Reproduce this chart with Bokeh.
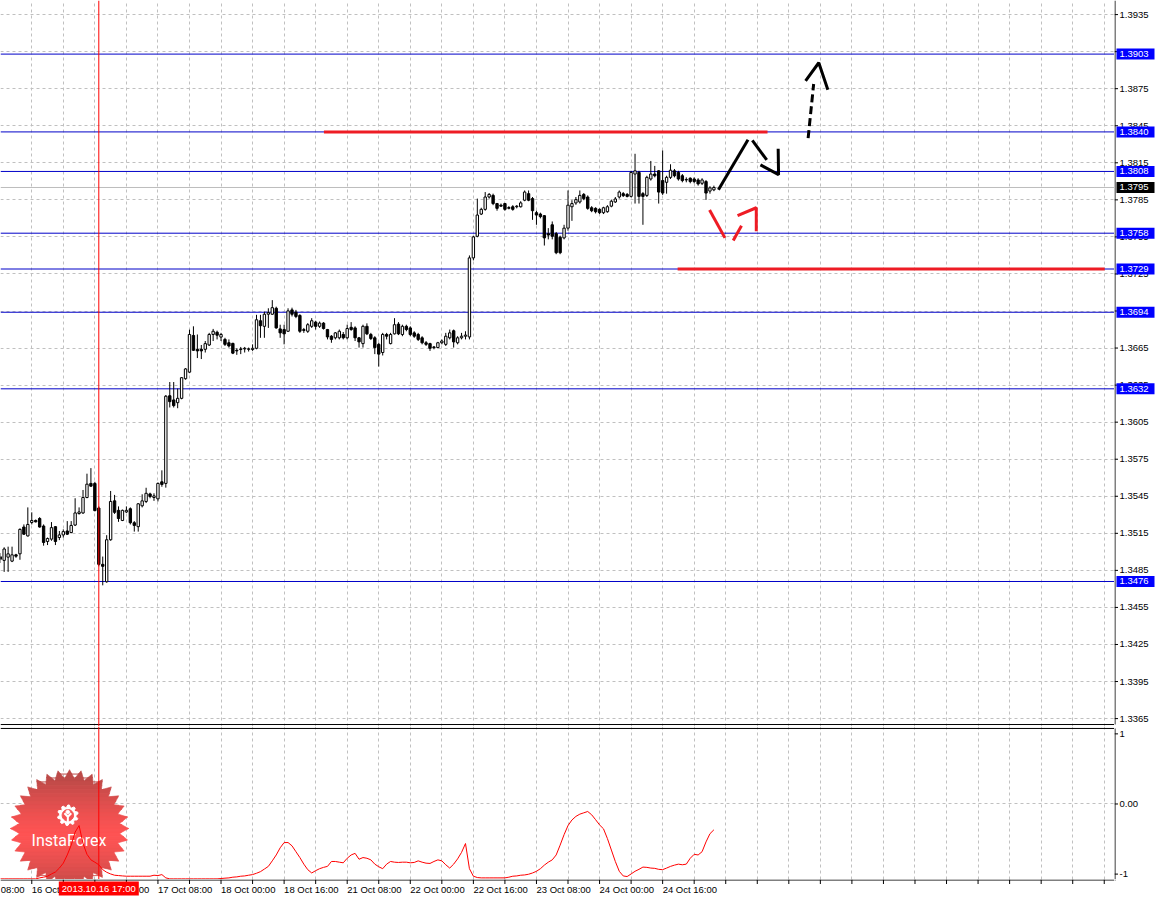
import numpy as np
from bokeh.plotting import figure
from bokeh.layouts import column, row
from bokeh.models import Range1d, FixedTicker, Span, ColumnDataSource
from bokeh.embed import file_html
from bokeh.resources import INLINE
from bokeh.core.properties import value

# ---------------- DATA (hourly EURUSD bars, index 0 = 16 Oct 00:00) ----------------
bar_index = list(range(-8, 174))

opens = [
    1.34960, 1.34931, 1.34957, 1.34925, 1.34976, 1.34984, 1.35201, 1.35129, 1.35238, 1.35254,
    1.35270, 1.35209, 1.35084, 1.35103, 1.35204, 1.35116, 1.35137, 1.35169, 1.35156, 1.35217,
    1.35310, 1.35315, 1.35440, 1.35554, 1.35554, 1.35355, 1.34899, 1.34758, 1.35098, 1.35413,
    1.35336, 1.35254, 1.35323, 1.35349, 1.35236, 1.35204, 1.35373, 1.35408, 1.35469, 1.35440,
    1.35429, 1.35567, 1.35554, 1.36264, 1.36230, 1.36208, 1.36243, 1.36402, 1.36455, 1.36752,
    1.36640, 1.36640, 1.36640, 1.36675, 1.36760, 1.36778, 1.36739, 1.36720, 1.36693, 1.36688,
    1.36632, 1.36638, 1.36643, 1.36640, 1.36638, 1.36648, 1.36871, 1.36826, 1.36924, 1.36924,
    1.36972, 1.36805, 1.36800, 1.36786, 1.36959, 1.36940, 1.36914, 1.36792, 1.36786, 1.36826,
    1.36860, 1.36826, 1.36852, 1.36800, 1.36746, 1.36733, 1.36733, 1.36760, 1.36733, 1.36818,
    1.36813, 1.36733, 1.36686, 1.36826, 1.36760, 1.36733, 1.36680, 1.36614, 1.36760, 1.36686,
    1.36765, 1.36844, 1.36760, 1.36826, 1.36813, 1.36773, 1.36760, 1.36733, 1.36693, 1.36686,
    1.36659, 1.36654, 1.36693, 1.36680, 1.36733, 1.36790, 1.36693, 1.36733, 1.36746, 1.36740,
    1.37380, 1.37555, 1.37735, 1.37773, 1.37873, 1.37886, 1.37820, 1.37807, 1.37820, 1.37781,
    1.37794, 1.37794, 1.37794, 1.37847, 1.37900, 1.37860, 1.37746, 1.37735, 1.37722, 1.37576,
    1.37648, 1.37576, 1.37547, 1.37542, 1.37621, 1.37794, 1.37825, 1.37833, 1.37894, 1.37873,
    1.37786, 1.37781, 1.37773, 1.37746, 1.37754, 1.37799, 1.37833, 1.37873, 1.37900, 1.37894,
    1.37878, 1.38059, 1.38072, 1.37900, 1.37886, 1.38019, 1.38059, 1.38085, 1.38006, 1.37992,
    1.38032, 1.38085, 1.38072, 1.38045, 1.38011, 1.38025, 1.38019, 1.38011, 1.37984, 1.37998,
    1.37921, 1.37931]

highs = [
    1.34990, 1.35037, 1.35042, 1.35042, 1.34984, 1.35190, 1.35222, 1.35360, 1.35320, 1.35262,
    1.35281, 1.35222, 1.35116, 1.35241, 1.35209, 1.35169, 1.35182, 1.35249, 1.35249, 1.35434,
    1.35360, 1.35501, 1.35633, 1.35678, 1.35567, 1.35368, 1.34962, 1.35135, 1.35493, 1.35461,
    1.35368, 1.35342, 1.35368, 1.35360, 1.35249, 1.35395, 1.35466, 1.35519, 1.35479, 1.35474,
    1.35562, 1.35660, 1.36270, 1.36375, 1.36375, 1.36322, 1.36415, 1.36487, 1.36799, 1.36826,
    1.36760, 1.36675, 1.36707, 1.36773, 1.36805, 1.36791, 1.36773, 1.36733, 1.36720, 1.36693,
    1.36648, 1.36659, 1.36659, 1.36654, 1.36680, 1.36919, 1.36919, 1.36945, 1.36972, 1.37038,
    1.36985, 1.36839, 1.36839, 1.36972, 1.36977, 1.36959, 1.36924, 1.36813, 1.36852, 1.36892,
    1.36871, 1.36865, 1.36860, 1.36805, 1.36755, 1.36780, 1.36800, 1.36780, 1.36839, 1.36860,
    1.36826, 1.36740, 1.36839, 1.36850, 1.36773, 1.36746, 1.36693, 1.36773, 1.36773, 1.36773,
    1.36892, 1.36860, 1.36839, 1.36839, 1.36826, 1.36786, 1.36773, 1.36746, 1.36707, 1.36693,
    1.36667, 1.36700, 1.36720, 1.36773, 1.36800, 1.36800, 1.36746, 1.36773, 1.36786, 1.37400,
    1.37560, 1.37860, 1.37786, 1.37913, 1.37905, 1.37900, 1.37825, 1.37820, 1.37825, 1.37799,
    1.37807, 1.37807, 1.37839, 1.37926, 1.37926, 1.37873, 1.37762, 1.37746, 1.37727, 1.37621,
    1.37675, 1.37590, 1.37560, 1.37648, 1.37926, 1.37847, 1.37873, 1.37926, 1.37905, 1.37886,
    1.37799, 1.37790, 1.37781, 1.37794, 1.37807, 1.37852, 1.37873, 1.37926, 1.37913, 1.37905,
    1.38085, 1.38223, 1.38085, 1.37913, 1.38045, 1.38165, 1.38125, 1.38090, 1.38250, 1.38045,
    1.38138, 1.38100, 1.38085, 1.38059, 1.38032, 1.38032, 1.38032, 1.38025, 1.38025, 1.38010,
    1.37960, 1.37965]

lows = [
    1.34910, 1.34838, 1.34838, 1.34917, 1.34952, 1.34936, 1.35137, 1.35124, 1.35222, 1.35238,
    1.35196, 1.35050, 1.35055, 1.35090, 1.35055, 1.35095, 1.35116, 1.35137, 1.35151, 1.35209,
    1.35302, 1.35307, 1.35434, 1.35527, 1.35328, 1.34883, 1.34729, 1.34750, 1.35090, 1.35307,
    1.35243, 1.35249, 1.35315, 1.35222, 1.35164, 1.35164, 1.35360, 1.35395, 1.35434, 1.35413,
    1.35408, 1.35527, 1.35520, 1.36169, 1.36169, 1.36163, 1.36235, 1.36394, 1.36447, 1.36627,
    1.36569, 1.36561, 1.36614, 1.36667, 1.36707, 1.36720, 1.36707, 1.36667, 1.36654, 1.36601,
    1.36595, 1.36601, 1.36614, 1.36622, 1.36627, 1.36640, 1.36733, 1.36733, 1.36813, 1.36919,
    1.36807, 1.36733, 1.36680, 1.36781, 1.36906, 1.36892, 1.36773, 1.36773, 1.36773, 1.36813,
    1.36800, 1.36813, 1.36800, 1.36720, 1.36693, 1.36720, 1.36720, 1.36720, 1.36720, 1.36790,
    1.36707, 1.36654, 1.36654, 1.36755, 1.36715, 1.36601, 1.36500, 1.36590, 1.36720, 1.36680,
    1.36760, 1.36755, 1.36746, 1.36786, 1.36746, 1.36733, 1.36707, 1.36680, 1.36667, 1.36627,
    1.36640, 1.36648, 1.36680, 1.36667, 1.36720, 1.36654, 1.36680, 1.36720, 1.36720, 1.36720,
    1.37360, 1.37547, 1.37727, 1.37762, 1.37860, 1.37807, 1.37762, 1.37794, 1.37762, 1.37773,
    1.37762, 1.37781, 1.37788, 1.37839, 1.37839, 1.37688, 1.37648, 1.37700, 1.37480, 1.37530,
    1.37530, 1.37410, 1.37410, 1.37530, 1.37600, 1.37680, 1.37810, 1.37820, 1.37847, 1.37770,
    1.37750, 1.37740, 1.37735, 1.37735, 1.37746, 1.37790, 1.37825, 1.37860, 1.37873, 1.37870,
    1.37870, 1.37820, 1.37820, 1.37648, 1.37873, 1.38006, 1.38032, 1.37820, 1.37890, 1.37900,
    1.38019, 1.38032, 1.38006, 1.37992, 1.37992, 1.37984, 1.37984, 1.37965, 1.37970, 1.37850,
    1.37900, 1.37920]

closes = [
    1.34940, 1.35023, 1.34984, 1.34976, 1.34965, 1.35182, 1.35143, 1.35222, 1.35254, 1.35243,
    1.35201, 1.35076, 1.35108, 1.35196, 1.35084, 1.35137, 1.35164, 1.35143, 1.35214, 1.35315,
    1.35323, 1.35440, 1.35548, 1.35532, 1.35334, 1.34899, 1.34883, 1.35098, 1.35408, 1.35320,
    1.35270, 1.35336, 1.35336, 1.35236, 1.35214, 1.35389, 1.35413, 1.35474, 1.35448, 1.35453,
    1.35554, 1.35546, 1.36260, 1.36216, 1.36184, 1.36243, 1.36410, 1.36481, 1.36760, 1.36632,
    1.36627, 1.36627, 1.36686, 1.36760, 1.36786, 1.36754, 1.36760, 1.36680, 1.36667, 1.36609,
    1.36627, 1.36643, 1.36648, 1.36643, 1.36648, 1.36879, 1.36831, 1.36924, 1.36937, 1.36977,
    1.36813, 1.36773, 1.36765, 1.36951, 1.36924, 1.36906, 1.36786, 1.36800, 1.36839, 1.36871,
    1.36826, 1.36852, 1.36808, 1.36740, 1.36720, 1.36773, 1.36786, 1.36733, 1.36808, 1.36800,
    1.36733, 1.36700, 1.36826, 1.36765, 1.36727, 1.36654, 1.36601, 1.36760, 1.36746, 1.36760,
    1.36839, 1.36765, 1.36826, 1.36800, 1.36760, 1.36746, 1.36720, 1.36693, 1.36680, 1.36648,
    1.36654, 1.36693, 1.36707, 1.36746, 1.36773, 1.36700, 1.36733, 1.36746, 1.36755, 1.37380,
    1.37550, 1.37727, 1.37773, 1.37873, 1.37894, 1.37820, 1.37781, 1.37799, 1.37773, 1.37788,
    1.37773, 1.37799, 1.37825, 1.37913, 1.37847, 1.37762, 1.37727, 1.37714, 1.37542, 1.37565,
    1.37555, 1.37422, 1.37422, 1.37621, 1.37807, 1.37820, 1.37852, 1.37886, 1.37860, 1.37781,
    1.37762, 1.37754, 1.37746, 1.37786, 1.37794, 1.37839, 1.37857, 1.37913, 1.37884, 1.37878,
    1.38072, 1.38085, 1.37878, 1.37878, 1.38032, 1.38059, 1.38045, 1.37913, 1.37905, 1.38032,
    1.38090, 1.38045, 1.38019, 1.38006, 1.38015, 1.37998, 1.37998, 1.37979, 1.38011, 1.37905,
    1.37947, 1.37950]

oscillator = [
    -1.068, -1.068, -1.068, -1.068, -1.068, -1.068, -1.068, -1.068, -1.068, -1.068,
    -1.054, -1.044, -1.030, -0.998, -0.970, -0.914, -0.844, -0.727, -0.587, -0.401,
    -0.308, -0.564, -0.718, -0.797, -0.830, -0.867, -0.937, -0.974, -0.998, -1.016,
    -1.021, -1.026, -1.030, -1.030, -1.030, -1.030, -1.030, -1.030, -1.030, -1.016,
    -1.021, -1.007, -1.054, -1.068, -1.068, -1.068, -1.068, -1.068, -1.068, -1.068,
    -1.068, -1.068, -1.068, -1.068, -1.068, -1.068, -1.063, -1.058, -1.054, -1.044,
    -1.040, -1.030, -1.026, -1.016, -1.007, -0.988, -0.965, -0.928, -0.890, -0.811,
    -0.727, -0.625, -0.550, -0.550, -0.597, -0.681, -0.764, -0.858, -0.937, -0.984,
    -0.951, -0.923, -0.904, -0.890, -0.820, -0.820, -0.830, -0.839, -0.774, -0.727,
    -0.704, -0.788, -0.764, -0.774, -0.797, -0.858, -0.895, -0.923, -0.858, -0.820,
    -0.830, -0.834, -0.830, -0.830, -0.839, -0.834, -0.811, -0.830, -0.844, -0.848,
    -0.820, -0.797, -0.811, -0.867, -0.914, -0.858, -0.783, -0.690, -0.564, -0.923,
    -1.030, -1.049, -1.054, -1.054, -1.054, -1.054, -1.054, -1.054, -1.054, -1.044,
    -1.030, -1.026, -1.016, -1.012, -1.002, -0.984, -0.960, -0.923, -0.872, -0.830,
    -0.797, -0.727, -0.587, -0.438, -0.308, -0.228, -0.177, -0.145, -0.126, -0.107,
    -0.154, -0.224, -0.298, -0.354, -0.494, -0.657, -0.820, -0.960, -1.026, -1.035,
    -0.998, -0.960, -0.932, -0.900, -0.904, -0.914, -0.918, -0.932, -0.937, -0.914,
    -0.890, -0.872, -0.858, -0.867, -0.858, -0.774, -0.718, -0.727, -0.681, -0.541,
    -0.424, -0.368]

price_ticks = [1.3365, 1.3395, 1.3425, 1.3455, 1.3485, 1.3515, 1.3545, 1.3575, 1.3605, 1.3635,
               1.3665, 1.3695, 1.3725, 1.3755, 1.3785, 1.3815, 1.3845, 1.3875, 1.3905, 1.3935]
price_tick_labels = ["1.3365", "1.3395", "1.3425", "1.3455", "1.3485", "1.3515", "1.3545",
                     "1.3575", "1.3605", "1.3635", "1.3665", "1.3695", "1.3725", "1.3755",
                     "1.3785", "1.3815", "1.3845", "1.3875", "1.3905", "1.3935"]
osc_ticks = [-1, 0, 1]
osc_tick_labels = ["-1", "0.00", "1"]

grid_bars = [0, 8, 16, 24, 32, 40, 48, 56, 64, 72, 80, 88, 96, 104, 112, 120, 128, 136, 144,
             152, 160, 168, 176, 184, 192, 200, 208, 216, 224, 232, 240, 248, 256, 264, 272]
time_tick_bars = [0, 16, 32, 48, 64, 80, 96, 112, 128, 144, 160]
time_tick_labels = ["16 Oct 00:00", "16 Oct 16:00", "17 Oct 08:00", "18 Oct 00:00",
                    "18 Oct 16:00", "21 Oct 08:00", "22 Oct 00:00", "22 Oct 16:00",
                    "23 Oct 08:00", "24 Oct 00:00", "24 Oct 16:00"]
edge_time_bar = -7.85          # visible tail of the "15 Oct 08:00" label at the left edge
edge_time_label = "08:00"
crosshair_bar = 17
crosshair_label = "2013.10.16 17:00"

level_prices = [1.3903, 1.3840, 1.3808, 1.3758, 1.3729, 1.3694, 1.3632, 1.3476]
level_labels = ["1.3903", "1.3840", "1.3808", "1.3758", "1.3729", "1.3694", "1.3632", "1.3476"]
bid_price = 1.3795
bid_label = "1.3795"

zone_start_bar = [74.1, 163.8]
zone_end_bar = [186.6, 272.1]
zone_price = [1.3840, 1.3729]

# hand-drawn forecast arrows (bar index, price)
black_strokes_x = [[174.15, 181.65], [182.75, 186.4], [184.8, 189.4, 189.3]]
black_strokes_y = [[1.37931, 1.38337], [1.38332, 1.38173], [1.38133, 1.38054, 1.38263]]
black_dash_x = [[196.9, 198.3]]
black_dash_y = [[1.38350, 1.38788]]
black_head_x = [[196.25, 199.6, 201.9]]
black_head_y = [[1.38814, 1.38960, 1.38742]]
red_strokes_x = [[171.9, 175.8], [177.9, 180.0], [179.0, 183.75, 183.75]]
red_strokes_y = [[1.37767, 1.37542], [1.37521, 1.37640], [1.37722, 1.37786, 1.37595]]

# ---------------- LAYOUT ----------------
PLOT_W = 1114
AX_W = 42
MAIN_H = 726
IND_H = 153
BOT_H = 18
FONT = "Liberation Sans"
FSIZE = "9.5px"
GRID = "#C0C0C0"
BLUE = "#0000C8"
BOX_BLUE = "#0000FF"
RED = "#EE1C25"

x_rng = Range1d(-7.93, 274.6)
P_LO, P_HI = 1.33586, 1.39464
P_BORDER = 1.33602
I_LO, I_HI = -1.077, 1.105
I_BORDER = 1.077


def bare(width, height, x_range, y_range):
    f = figure(width=width, height=height, x_range=x_range, y_range=y_range,
               output_backend="svg", toolbar_location=None, x_axis_location=None,
               y_axis_location=None, min_border=0, min_border_left=0, min_border_right=0,
               min_border_top=0, min_border_bottom=0)
    f.outline_line_color = None
    f.background_fill_color = "white"
    f.border_fill_color = "white"
    f.grid.visible = False
    return f


def dashed_grid(f, xticks, yticks):
    f.grid.visible = True
    f.xgrid.ticker = FixedTicker(ticks=xticks)
    f.ygrid.ticker = FixedTicker(ticks=yticks)
    f.grid.grid_line_color = GRID
    f.grid.grid_line_dash = "3 3"


# ---- main price panel ----
p_rng = Range1d(P_LO, P_HI)
p = bare(PLOT_W, MAIN_H, x_rng, p_rng)
dashed_grid(p, grid_bars, price_ticks)
p.add_layout(Span(location=P_BORDER, dimension="width", line_color="black", line_width=1))
for lv in level_prices:
    p.add_layout(Span(location=lv, dimension="width", line_color=BLUE, line_width=1,
                      level="underlay"))
p.add_layout(Span(location=bid_price, dimension="width", line_color="#BDBDBD",
                  line_width=1, level="underlay"))

p.segment(x0=zone_start_bar, y0=zone_price, x1=zone_end_bar, y1=zone_price,
          line_color=RED, line_width=3)

src = ColumnDataSource(dict(
    x=bar_index, high=highs, low=lows,
    top=[max(o, c) for o, c in zip(opens, closes)],
    bottom=[min(o, c) for o, c in zip(opens, closes)],
    fill=["white" if c >= o else "black" for o, c in zip(opens, closes)]))
p.segment(x0="x", y0="low", x1="x", y1="high", source=src, line_color="black", line_width=1)
p.vbar(x="x", width=0.6, top="top", bottom="bottom", source=src,
       fill_color="fill", line_color="black", line_width=1)

p.multi_line(xs=black_strokes_x, ys=black_strokes_y, line_color="black", line_width=3)
p.multi_line(xs=black_dash_x, ys=black_dash_y, line_color="black", line_width=3,
             line_dash="8 4")
p.multi_line(xs=black_head_x, ys=black_head_y, line_color="black", line_width=3)
p.multi_line(xs=red_strokes_x, ys=red_strokes_y, line_color=RED, line_width=3)
p.add_layout(Span(location=crosshair_bar, dimension="height", line_color="#FF0000",
                  line_width=1))

# ---- main price scale (right) ----
pr = bare(AX_W, MAIN_H, Range1d(0, AX_W), p_rng)
pr.segment(x0=[0.5], y0=[P_BORDER], x1=[0.5], y1=[P_HI], line_color="black", line_width=1)
pr.segment(x0=[0] * len(price_ticks), y0=price_ticks, x1=[3.5] * len(price_ticks),
           y1=price_ticks, line_color="black", line_width=1)
pr.text(x=[5] * len(price_ticks), y=price_ticks, text=price_tick_labels, text_color="black",
        text_font=value(FONT), text_font_size=FSIZE, text_baseline="middle", text_align="left")
pr.rect(x=[21] * len(level_prices), y=level_prices, width=38, height=11, height_units="screen",
        fill_color=BOX_BLUE, line_color=None)
pr.text(x=[5] * len(level_prices), y=level_prices, text=level_labels, text_color="white",
        text_font=value(FONT), text_font_size=FSIZE, text_baseline="middle", text_align="left")
pr.rect(x=[21], y=[bid_price], width=38, height=11, height_units="screen",
        fill_color="black", line_color=None)
pr.text(x=[5], y=[bid_price], text=[bid_label], text_color="white",
        text_font=value(FONT), text_font_size=FSIZE, text_baseline="middle", text_align="left")

# ---- indicator panel ----
i_rng = Range1d(I_LO, I_HI)
p2 = bare(PLOT_W, IND_H, x_rng, i_rng)
dashed_grid(p2, grid_bars, [0])
p2.add_layout(Span(location=I_BORDER, dimension="width", line_color="black", line_width=1))

BAR0_PX, PX_PER_BAR, ZERO_PX, PX_PER_UNIT = 31.7, 4.0, 818.0, 71.5


def to_data(pts):
    return ([(x - BAR0_PX) / PX_PER_BAR for x, _ in pts],
            [(ZERO_PX - y) / PX_PER_UNIT for _, y in pts])


def ring(cx, cy, radii, n):
    ang = np.linspace(0, 2 * np.pi, n, endpoint=False) - np.pi / 2
    r = np.array([radii[i % len(radii)] for i in range(n)])
    return list(zip(cx + r * np.cos(ang), cy + r * np.sin(ang)))


def clip_half(pts, keep, yc):
    out = []
    for i in range(len(pts)):
        cx_, cy_ = pts[i]
        px_, py_ = pts[i - 1]
        if keep(cy_):
            if not keep(py_):
                t = (yc - py_) / (cy_ - py_)
                out.append((px_ + t * (cx_ - px_), yc))
            out.append((cx_, cy_))
        elif keep(py_):
            t = (yc - py_) / (cy_ - py_)
            out.append((px_ + t * (cx_ - px_), yc))
    return out


star = ring(70.0, 843.0, [60, 51], 64)
bright = np.array([255, 84, 84])
dark = np.array([188, 74, 72])
bxs, bys, bcols = [], [], []
for y0 in range(783, 904, 4):
    pts = clip_half(star, lambda y: y >= y0, y0)
    if pts:
        pts = clip_half(pts, lambda y: y <= y0 + 4.5, y0 + 4.5)
    if len(pts) < 3:
        continue
    t = min(1.0, abs(y0 + 2 - 850) / 58.0) ** 1.3
    c = (bright * (1 - t) + dark * t).astype(int)
    xs_, ys_ = to_data(pts)
    bxs.append(xs_)
    bys.append(ys_)
    bcols.append("#%02x%02x%02x" % tuple(c))
p2.patches(xs=bxs, ys=bys, fill_color=bcols, line_color=bcols, line_width=0.6)

gx, gy = to_data(ring(68.3, 829.5, [10.5, 10.5, 8.3, 8.3], 40))
p2.patch(gx, gy, fill_color="white", line_color="white")
ix, iy = to_data(ring(68.3, 829.5, [5.8], 30))
p2.patch(ix, iy, fill_color="#F65252", line_color="#F65252")
hx, hy = to_data(ring(68.3, 826.2, [1.9], 16))
p2.patch(hx, hy, fill_color="white", line_color="white")
fig_lines = [[(64.8, 827.5), (68.3, 831.0), (71.8, 827.5)], [(68.3, 831.0), (68.3, 839.5)]]
p2.multi_line(xs=[to_data(l)[0] for l in fig_lines], ys=[to_data(l)[1] for l in fig_lines],
              line_color="white", line_width=2)
tx, ty = to_data([(69.5, 855.5)])
p2.text(x=tx, y=ty, text=["InstaForex"], text_color="white", text_font=value("Roboto"),
        text_font_size="16px", text_align="center", text_baseline="middle")

p2.line(bar_index, oscillator, line_color="#FF0000", line_width=1)
p2.add_layout(Span(location=crosshair_bar, dimension="height", line_color="#FF0000",
                   line_width=1))

# ---- indicator scale (right) ----
ir = bare(AX_W, IND_H, Range1d(0, AX_W), i_rng)
ir.segment(x0=[0.5], y0=[I_LO], x1=[0.5], y1=[I_BORDER], line_color="black", line_width=1)
ir.segment(x0=[0] * 3, y0=osc_ticks, x1=[3.5] * 3, y1=osc_ticks, line_color="black",
           line_width=1)
ir.text(x=[5] * 3, y=osc_ticks, text=osc_tick_labels, text_color="black",
        text_font=value(FONT), text_font_size=FSIZE, text_baseline="middle", text_align="left")

# ---- time scale (bottom) ----
pb = bare(PLOT_W, BOT_H, x_rng, Range1d(0, BOT_H))
pb.segment(x0=[x_rng.start], y0=[BOT_H - 0.5], x1=[x_rng.end], y1=[BOT_H - 0.5],
           line_color="black", line_width=1)
pb.segment(x0=grid_bars, y0=[BOT_H] * len(grid_bars), x1=grid_bars,
           y1=[BOT_H - 4.5] * len(grid_bars), line_color="black", line_width=1)
pb.text(x=time_tick_bars + [edge_time_bar], y=[BOT_H - 4] * (len(time_tick_bars) + 1),
        text=time_tick_labels + [edge_time_label],
        text_color="black", text_font=value(FONT), text_font_size=FSIZE,
        text_baseline="top", text_align="left")
pb.rect(x=[crosshair_bar], y=[BOT_H - 9], width=80, height=14, width_units="screen",
        height_units="screen", fill_color="#FF0000", line_color=None)
pb.text(x=[crosshair_bar], y=[BOT_H - 9], text=[crosshair_label], text_color="white",
        text_font=value(FONT), text_font_size=FSIZE, text_baseline="middle",
        text_align="center")

pbr = bare(AX_W, BOT_H, Range1d(0, AX_W), Range1d(0, BOT_H))
pbr.segment(x0=[0], y0=[BOT_H - 0.5], x1=[1], y1=[BOT_H - 0.5], line_color="black")

layout = column(row(p, pr, spacing=0), row(p2, ir, spacing=0), row(pb, pbr, spacing=0),
                spacing=0)
open("out.html", "w").write(file_html(layout, INLINE))
